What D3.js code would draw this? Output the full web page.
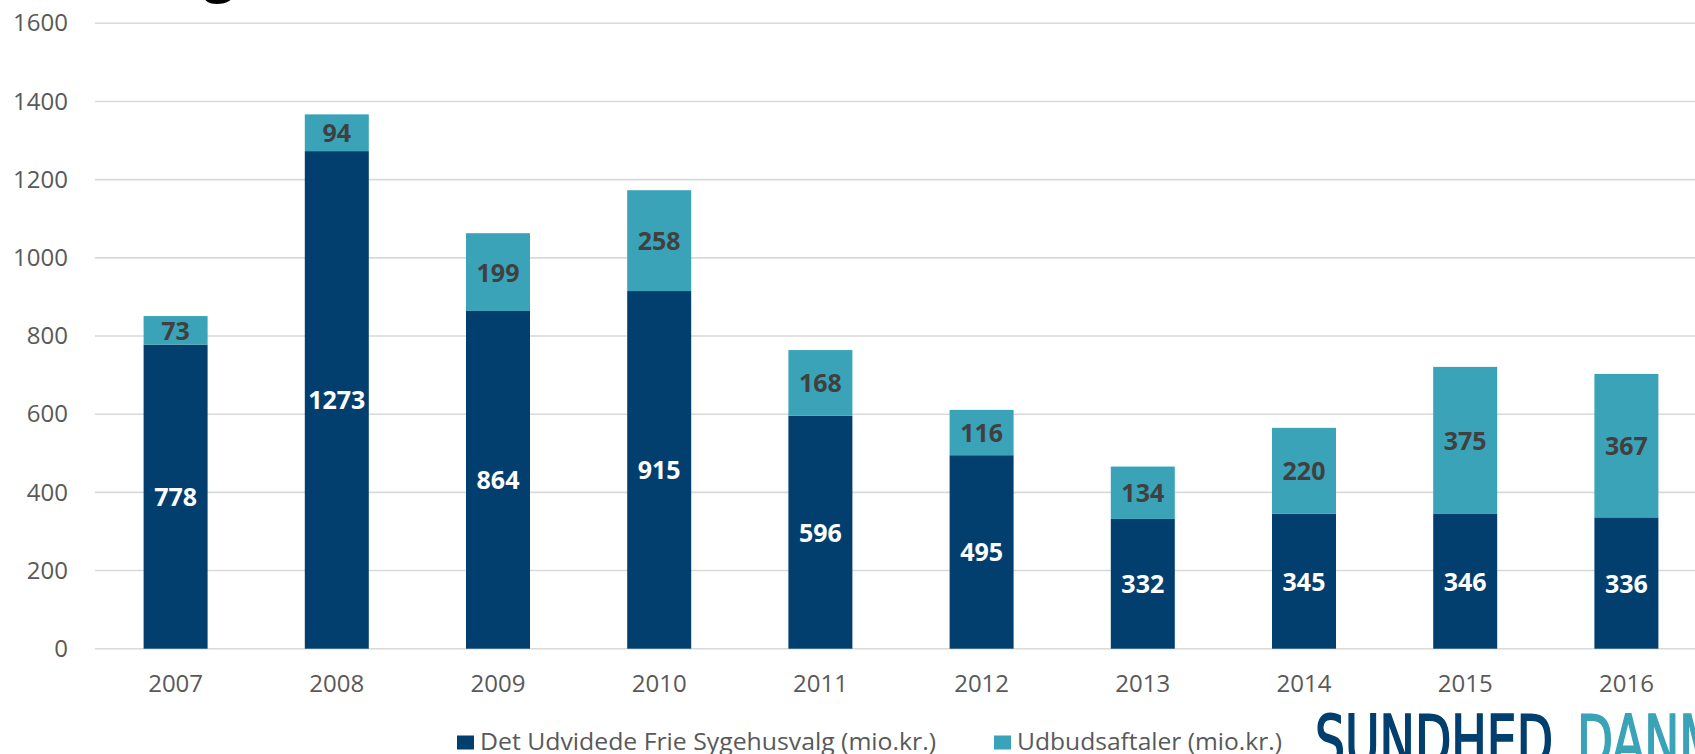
<!DOCTYPE html>
<html>
<head>
<meta charset="utf-8">
<script src="https://cdn.jsdelivr.net/npm/d3@7"></script>
<style>
  html, body { margin: 0; padding: 0; background: #fff; overflow: hidden; }
  svg { display: block; font-family: "Open Sans", sans-serif; }
</style>
</head>
<body>
<div id="chart"></div>
<script>
// data
const years = ["2007", "2008", "2009", "2010", "2011", "2012", "2013", "2014", "2015", "2016"];
const frieSygehusvalg = [778, 1273, 864, 915, 596, 495, 332, 345, 346, 336];
const udbudsaftaler = [73, 94, 199, 258, 168, 116, 134, 220, 375, 367];
const yTicks = [0, 200, 400, 600, 800, 1000, 1200, 1400, 1600];
const seriesNames = ["Det Udvidede Frie Sygehusvalg (mio.kr.)", "Udbudsaftaler (mio.kr.)"];

const width = 1695, height = 754;
const darkBlue = "#023f6e", teal = "#3aa3b8";

const svg = d3.select("#chart").append("svg")
    .attr("width", width)
    .attr("height", height);

// the title sits above the visible area, only the tail of its "g" shows
svg.append("text")
    .attr("x", 204)
    .attr("y", -9)
    .attr("font-size", 54)
    .attr("font-weight", "bold")
    .attr("fill", "#000")
    .text("g");

var x = d3.scaleBand()
    .domain(years)
    .range([95, 1707])
    .paddingInner(0.603)
    .paddingOuter(0.3015);

var y = d3.scaleLinear()
    .domain([0, 1600])
    .range([648.7, 23.3]);

// gridlines
svg.append("g")
    .selectAll("line")
    .data(yTicks)
    .enter().append("line")
    .attr("x1", 95)
    .attr("x2", width)
    .attr("y1", d => y(d))
    .attr("y2", d => y(d))
    .attr("stroke", "#d9d9d9")
    .attr("stroke-width", 1.6);

// y axis labels
var yAxis = svg.append("g")
    .attr("transform", "translate(68,0)")
    .call(d3.axisLeft(y).tickValues(yTicks).tickFormat(d3.format("d")).tickSize(0).tickPadding(0));
yAxis.select(".domain").remove();
yAxis.selectAll("text")
    .attr("font-family", "Open Sans")
    .attr("font-size", 24)
    .attr("fill", "#595959");

// x axis labels
var xAxis = svg.append("g")
    .attr("transform", "translate(0,675)")
    .call(d3.axisBottom(x).tickSize(0).tickPadding(0));
xAxis.select(".domain").remove();
xAxis.selectAll("text")
    .attr("font-family", "Open Sans")
    .attr("font-size", 24)
    .attr("fill", "#595959");

const rows = years.map((yr, i) => ({ year: yr, a: frieSygehusvalg[i], b: udbudsaftaler[i] }));

// bottom segments
svg.append("g").selectAll("rect")
    .data(rows)
    .enter().append("rect")
    .attr("x", d => x(d.year))
    .attr("width", x.bandwidth())
    .attr("y", d => y(d.a))
    .attr("height", d => y(0) - y(d.a))
    .attr("fill", darkBlue);

// top segments
svg.append("g").selectAll("rect")
    .data(rows)
    .enter().append("rect")
    .attr("x", d => x(d.year))
    .attr("width", x.bandwidth())
    .attr("y", d => y(d.a + d.b))
    .attr("height", d => y(d.a) - y(d.a + d.b))
    .attr("fill", teal);

// labels in the middle of each segment
svg.append("g").selectAll("text")
    .data(rows)
    .enter().append("text")
    .attr("x", d => x(d.year) + x.bandwidth() / 2)
    .attr("y", d => y(d.a / 2))
    .attr("dy", "0.38em")
    .attr("text-anchor", "middle")
    .attr("font-size", 25)
    .attr("font-weight", "bold")
    .attr("fill", "#fff")
    .text(d => d.a);

svg.append("g").selectAll("text")
    .data(rows)
    .enter().append("text")
    .attr("x", d => x(d.year) + x.bandwidth() / 2)
    .attr("y", d => y(d.a + d.b / 2))
    .attr("dy", "0.38em")
    .attr("text-anchor", "middle")
    .attr("font-size", 25)
    .attr("font-weight", "bold")
    .attr("fill", "#404040")
    .text(d => d.b);

// legend
const legendItems = [
    { name: seriesNames[0], color: darkBlue, x: 457, len: 456 },
    { name: seriesNames[1], color: teal, x: 994, len: 265 }
];
var legend = svg.append("g").selectAll("g")
    .data(legendItems)
    .enter().append("g")
    .attr("transform", d => "translate(" + d.x + ",0)");
legend.append("rect")
    .attr("x", 0)
    .attr("y", 735.5)
    .attr("width", 17)
    .attr("height", 14)
    .attr("fill", d => d.color);
legend.append("text")
    .attr("x", 23)
    .attr("y", 750)
    .attr("font-size", 24)
    .attr("fill", "#595959")
    .attr("textLength", d => d.len)
    .attr("lengthAdjust", "spacingAndGlyphs")
    .text(d => d.name);

// logo, cut by the bottom and right edges
var logo = svg.append("text")
    .attr("y", 765)
    .attr("font-family", "DejaVu Sans Condensed")
    .attr("font-size", 70)
    .attr("stroke-width", 1.8);
logo.append("tspan")
    .attr("x", 1315)
    .attr("fill", darkBlue)
    .attr("stroke", darkBlue)
    .attr("textLength", 238)
    .attr("lengthAdjust", "spacingAndGlyphs")
    .text("SUNDHED");
logo.append("tspan")
    .attr("x", 1577)
    .attr("fill", teal)
    .attr("stroke", teal)
    .attr("textLength", 238)
    .attr("lengthAdjust", "spacingAndGlyphs")
    .text("DANMARK");
</script>
</body>
</html>
